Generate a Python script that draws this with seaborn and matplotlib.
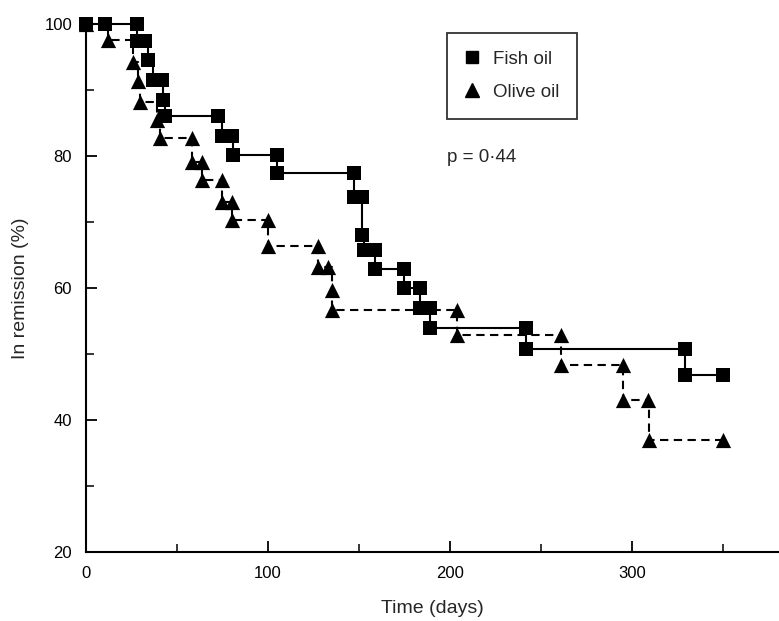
import numpy as np
import pandas as pd
import seaborn as sns
import matplotlib.pyplot as plt
from matplotlib.lines import Line2D

# === Data (marker positions along each step curve) ===
fish_days = [0, 10.5, 28, 28, 32.5, 34, 37, 41.5, 42.5, 43.5, 72.5, 74.5, 80, 81,
             105, 105, 147, 147, 151.5, 151.5, 152.5, 159, 159, 174.5, 174.5,
             183.5, 183.5, 189, 189, 242, 242, 329, 329, 350]
fish_pct = [100, 100, 100, 97.4, 97.4, 94.5, 91.5, 91.5, 88.5, 86, 86, 83, 83, 80.1,
            80.1, 77.4, 77.4, 73.8, 73.8, 68, 65.8, 65.8, 62.9, 62.9, 60,
            60, 56.9, 56.9, 53.9, 53.9, 50.8, 50.8, 46.8, 46.8]

olive_days = [0, 12.3, 26, 28.7, 29.7, 38.8, 40.7, 58, 58, 63.5, 63.5, 74.5, 74.5, 80,
              80, 100, 100, 127.6, 127.6, 133, 135, 135, 203.6, 203.6, 261, 261,
              295, 295, 309, 309.5, 350]
olive_pct = [100, 97.6, 94.3, 91.3, 88.2, 85.5, 82.7, 82.7, 79.1, 79.1, 76.3, 76.3, 73.1, 73.1,
             70.3, 70.3, 66.4, 66.4, 63.2, 63.2, 59.7, 56.7, 56.7, 52.9, 52.9, 48.3,
             48.3, 43, 43, 37, 37]

series_labels = ["Fish oil", "Olive oil"]
p_text = "p = 0\u00b744"
x_ticks = [0, 100, 200, 300]
y_ticks = [20, 40, 60, 80, 100]

fish = pd.DataFrame({"day": fish_days, "pct": fish_pct})
olive = pd.DataFrame({"day": olive_days, "pct": olive_pct})

# === Style ===
sns.set_style("ticks")
plt.rcParams["font.family"] = ["Liberation Sans", "DejaVu Sans"]

fig = plt.figure(figsize=(7.79, 6.21), dpi=100)
ax = fig.add_axes([86 / 779, 69 / 621, 693 / 779, 528 / 621])

# olive oil: dashed line, triangles (drawn first, squares on top)
sns.lineplot(data=olive, x="day", y="pct", ax=ax, sort=False, estimator=None,
             drawstyle="steps-post", color="black", linewidth=1.5,
             linestyle=(0, (4, 2.6)), clip_on=False, zorder=2)
sns.scatterplot(data=olive, x="day", y="pct", ax=ax, marker="^", s=120,
                color="black", edgecolor="black", linewidth=0, clip_on=False, zorder=3)

# fish oil: solid line, squares
sns.lineplot(data=fish, x="day", y="pct", ax=ax, sort=False, estimator=None,
             drawstyle="steps-post", color="black", linewidth=1.5,
             clip_on=False, zorder=4)
sns.scatterplot(data=fish, x="day", y="pct", ax=ax, marker="s", s=105,
                color="black", edgecolor="black", linewidth=0, clip_on=False, zorder=5)

# === Axes ===
ax.set_xlim(0, 380.8)
ax.set_ylim(20, 100)
ax.set_xticks(x_ticks)
ax.set_yticks(y_ticks)
ax.set_xticks([50, 150, 250, 350], minor=True)
ax.set_yticks([30, 50, 70, 90], minor=True)
ax.tick_params(which="major", direction="in", length=8, width=1.3, labelsize=12, pad=10,
               colors="black")
ax.tick_params(which="minor", direction="in", length=5.5, width=1.3)
sns.despine(ax=ax)
for side in ["left", "bottom"]:
    ax.spines[side].set_linewidth(1.5)
    ax.spines[side].set_color("black")

ax.set_xlabel("Time (days)", fontsize=14, labelpad=14)
ax.set_ylabel("In remission (%)", fontsize=14)
ax.yaxis.set_label_coords(-0.082, 0.5)

# legend with markers only
handles = [
    Line2D([], [], marker="s", linestyle="none", color="black", markersize=9),
    Line2D([], [], marker="^", linestyle="none", color="black", markersize=10),
]
leg = ax.legend(handles, series_labels, loc="upper left", bbox_to_anchor=(0.521, 0.983),
                frameon=True, fancybox=False, fontsize=13.5, labelspacing=0.85,
                handlelength=0.8, handletextpad=0.7, borderpad=0.95, borderaxespad=0)
leg.get_frame().set_edgecolor("black")
leg.get_frame().set_linewidth(1.3)

ax.text(198.5, 79.7, p_text, fontsize=13.5, ha="left", va="center")

fig.savefig("out.png", dpi=100)
